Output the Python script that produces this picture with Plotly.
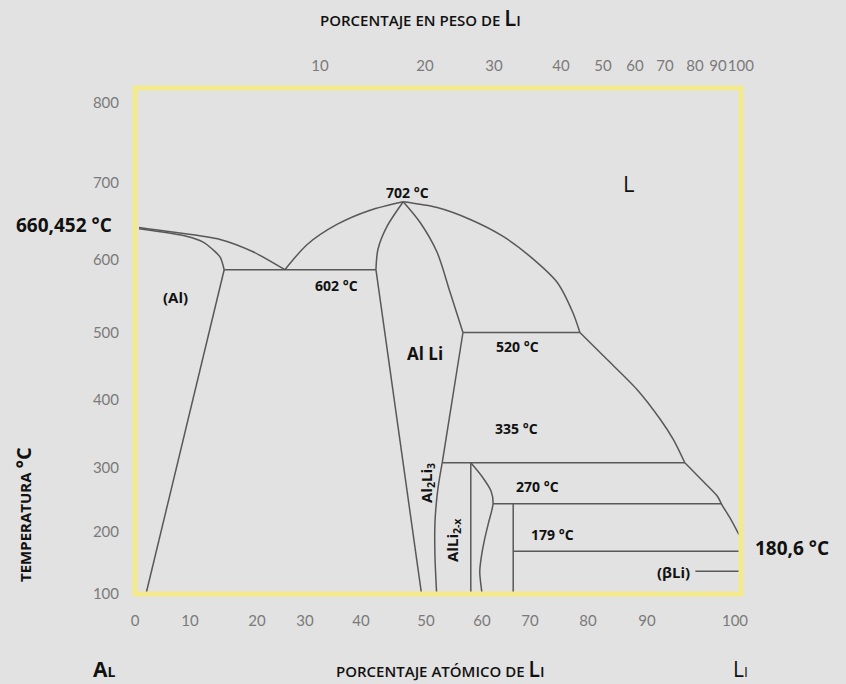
import numpy as np
import plotly.graph_objects as go

# ---------------- tick labels (axis scales of the drawing) ----------------
AT_TICKS = [0, 10, 20, 30, 40, 50, 60, 70, 80, 90, 100]          # atomic % Li (bottom)
WT_TICKS = [10, 20, 30, 40, 50, 60, 70, 80, 90, 100]             # weight % Li (top)
TEMP_TICKS = [100, 200, 300, 400, 500, 600, 700, 800]            # °C (left)

# ---------------- phase boundaries: atomic % Li / temperature °C ----------------
liq_al_x = [0.7, 6.4, 14.5, 19.4, 25.8]
liq_al_t = [641.6, 636, 626, 610, 586]
sol_al_x = [0.7, 9.5, 11.9, 13.4, 14.5, 15.1]
sol_al_t = [640, 630, 623, 613, 603, 586]
solvus_al_x = [15.1, 2.0]
solvus_al_t = [586, 100]
eut_x = [15.1, 42.3]
eut_t = [586, 586]
liq_mid_x = [25.8, 30.4, 35.7, 41.4, 46.5]
liq_mid_t = [586, 619.5, 645.5, 664, 675]
alli_left_top_x = [42.3, 42.6, 44.0, 46.5]
alli_left_top_t = [586, 613, 643, 675]
alli_left_low_x = [42.3, 49.3]
alli_left_low_t = [586, 100]
liq_right_x = [46.5, 52.0, 57.9, 64.4, 70.0, 74.7, 77.4, 78.6]
liq_right_t = [675, 667.5, 652, 630, 604, 568.5, 527, 500]
alli_right_x = [46.5, 49.1, 52.0, 54.3, 56.6]
alli_right_t = [675, 648, 609, 555, 500]
per520_x = [56.6, 78.6]
per520_t = [500, 500]
alli_right2_x = [56.6, 52.9]
alli_right2_t = [500, 307]
al2li3_x = [52.9, 52.1, 51.6, 51.6, 51.9]
al2li3_t = [307, 265, 214, 160, 100]
liq_low_x = [78.6, 83.2, 88.3, 91.5, 93.0, 94.3]
liq_low_t = [500, 460, 415, 371, 341, 307]
per335_x = [52.9, 94.3]
per335_t = [307, 307]
liq_end_x = [94.3, 96.4, 98.0, 98.5, 99.4, 100.45]
liq_end_t = [307, 278, 255, 242, 222, 195]
per270_x = [62.3, 98.5]
per270_t = [243.5, 243.5]
v58_x = [58.0, 58.0]
v58_t = [307, 100]
wavy_x = [58.0, 60.0, 61.9, 62.3, 61.3, 60.5, 59.9, 59.6, 60.0]
wavy_t = [307, 286, 263, 243.5, 212, 186, 160, 135, 100]
v66_x = [66.5, 66.5]
v66_t = [243.5, 100]
eut179_x = [66.5, 100.8]
eut179_t = [168, 168]
bli_x = [95.5, 100.8]
bli_t = [135.5, 135.5]

# ---------------- drawing layout (positions of ticks in the picture) ----------------
AT_POS = [135.2, 190, 257, 305, 361, 426, 482, 530, 588, 647, 735]
WT_POS = [320, 425, 494, 561, 603, 635, 665, 695, 718, 740.8]
TEMP_POS = [90.2, 152, 216, 284, 351, 424, 501, 581]

W, H = 846, 684
ML, MR, MT, MB = 135, 105, 88, 90


def scale(vals, ticks, pos):
    v = np.asarray(vals, float)
    out = np.interp(v, ticks, pos)
    lo = v < ticks[0]
    hi = v > ticks[-1]
    out[lo] = pos[0] + (v[lo] - ticks[0]) * (pos[1] - pos[0]) / (ticks[1] - ticks[0])
    out[hi] = pos[-1] + (v[hi] - ticks[-1]) * (pos[-1] - pos[-2]) / (ticks[-1] - ticks[-2])
    return out


def fx(a):
    return scale(a, AT_TICKS, AT_POS)


def fy(t):
    return scale(t, TEMP_TICKS, TEMP_POS)


LINE = dict(color="#585858", width=1.5)
fig = go.Figure()

curves = [
    (liq_al_x, liq_al_t, True), (sol_al_x, sol_al_t, True),
    (solvus_al_x, solvus_al_t, False), (eut_x, eut_t, False),
    (liq_mid_x, liq_mid_t, True), (alli_left_top_x, alli_left_top_t, True),
    (alli_left_low_x, alli_left_low_t, False), (liq_right_x, liq_right_t, True),
    (alli_right_x, alli_right_t, True), (per520_x, per520_t, False),
    (alli_right2_x, alli_right2_t, False), (al2li3_x, al2li3_t, True),
    (liq_low_x, liq_low_t, True), (per335_x, per335_t, False),
    (liq_end_x, liq_end_t, True), (per270_x, per270_t, False),
    (v58_x, v58_t, False), (wavy_x, wavy_t, True), (v66_x, v66_t, False),
    (eut179_x, eut179_t, False), (bli_x, bli_t, False),
]
for xs, ts, smooth in curves:
    fig.add_trace(go.Scatter(
        x=fx(xs), y=fy(ts), mode="lines",
        line=dict(LINE, shape="spline" if smooth else "linear", smoothing=0.8),
        hoverinfo="skip", showlegend=False))

# invisible trace on top axis so it is drawn
fig.add_trace(go.Scatter(x=[WT_POS[0]], y=[TEMP_POS[0]], xaxis="x2", mode="markers",
                         marker=dict(opacity=0), hoverinfo="skip", showlegend=False))

TICKFONT = dict(family="Lato, sans-serif", size=15, color="#7a7a7a")
fig.update_layout(
    width=W, height=H, autosize=False,
    paper_bgcolor="#e2e2e2", plot_bgcolor="#e2e2e2",
    margin=dict(l=ML, r=MR, t=MT, b=MB, pad=0),
    xaxis=dict(range=[135, 741], tickmode="array", tickvals=AT_POS,
               ticktext=[str(v) for v in AT_TICKS], showgrid=False, zeroline=False,
               showline=False, ticks="outside", ticklen=13, tickcolor="rgba(0,0,0,0)",
               tickangle=0, tickfont=TICKFONT, fixedrange=True),
    xaxis2=dict(range=[135, 741], overlaying="x", side="top", anchor="y", tickmode="array",
                tickvals=WT_POS, ticktext=[str(v) for v in WT_TICKS], showgrid=False,
                zeroline=False, showline=False, ticks="outside", ticklen=10,
                tickcolor="rgba(0,0,0,0)", tickangle=0, tickfont=TICKFONT, fixedrange=True),
    yaxis=dict(range=[89.5, 595.5], tickmode="array", tickvals=TEMP_POS,
               ticktext=[str(v) for v in TEMP_TICKS], showgrid=False, zeroline=False,
               showline=False, ticks="outside", ticklen=12, tickcolor="rgba(0,0,0,0)",
               tickfont=TICKFONT, fixedrange=True),
)

# yellow frame
fig.add_shape(type="rect", xref="paper", yref="paper", x0=0, x1=1, y0=0, y1=1,
              line=dict(color="#f2ea8d", width=5), layer="above")


def pg(x, y):
    return (x - ML) / (W - ML - MR), (H - MB - y) / (H - MT - MB)


FONT = "Open Sans, sans-serif"
labels = [
    # text, x, y, size, angle, weight
    ("660,452 °C", 64, 225, 19, 0, 700),
    ("(Al)", 175, 297, 15, 0, 700),
    ("702 °C", 407, 192, 14, 0, 700),
    ("602 °C", 336, 285, 14, 0, 700),
    ("Al Li", 425, 353, 17, 0, 700),
    ("520 °C", 517, 347, 14, 0, 700),
    ("335 °C", 516, 428, 14, 0, 700),
    ("270 °C", 537, 486, 14, 0, 700),
    ("179 °C", 552, 534, 14, 0, 700),
    ("Al<sub>2</sub>Li<sub>3</sub>", 427, 483, 15, -90, 700),
    ("AlLi<sub>2-x</sub>", 453, 540, 15, -90, 700),
    ("(βLi)", 673, 572, 15, 0, 700),
    ("180,6 °C", 792, 548, 19, 0, 700),
    ("L", 628, 183, 22, 0, 400),
    ("<span style='font-size:15px'>PORCENTAJE EN PESO DE </span>L"
     "<span style='font-size:15px'>I</span>", 420, 17, 22, 0, 600),
    ("<span style='font-size:15px'>PORCENTAJE ATÓMICO DE </span>L"
     "<span style='font-size:15px'>I</span>", 440, 669, 21, 0, 600),
    ("A<span style='font-size:14px'>L</span>", 104, 669, 21, 0, 700),
    ("L<span style='font-size:14px'>I</span>", 740, 669, 21, 0, 400),
    ("<span style='font-size:15px'>TEMPERATURA </span>°C", 23, 515, 20, -90, 700),
]
for txt, x, y, size, ang, wgt in labels:
    xp, yp = pg(x, y)
    fig.add_annotation(text=txt, x=xp, y=yp, xref="paper", yref="paper",
                       xanchor="center", yanchor="middle", showarrow=False,
                       textangle=ang,
                       font=dict(family=FONT, size=size, color="#111111", weight=wgt))

fig.write_html("out.html", config={"displayModeBar": False},
               post_script="document.body.style.margin='0';document.body.style.padding='0';"
                           "document.body.style.overflow='hidden';")
